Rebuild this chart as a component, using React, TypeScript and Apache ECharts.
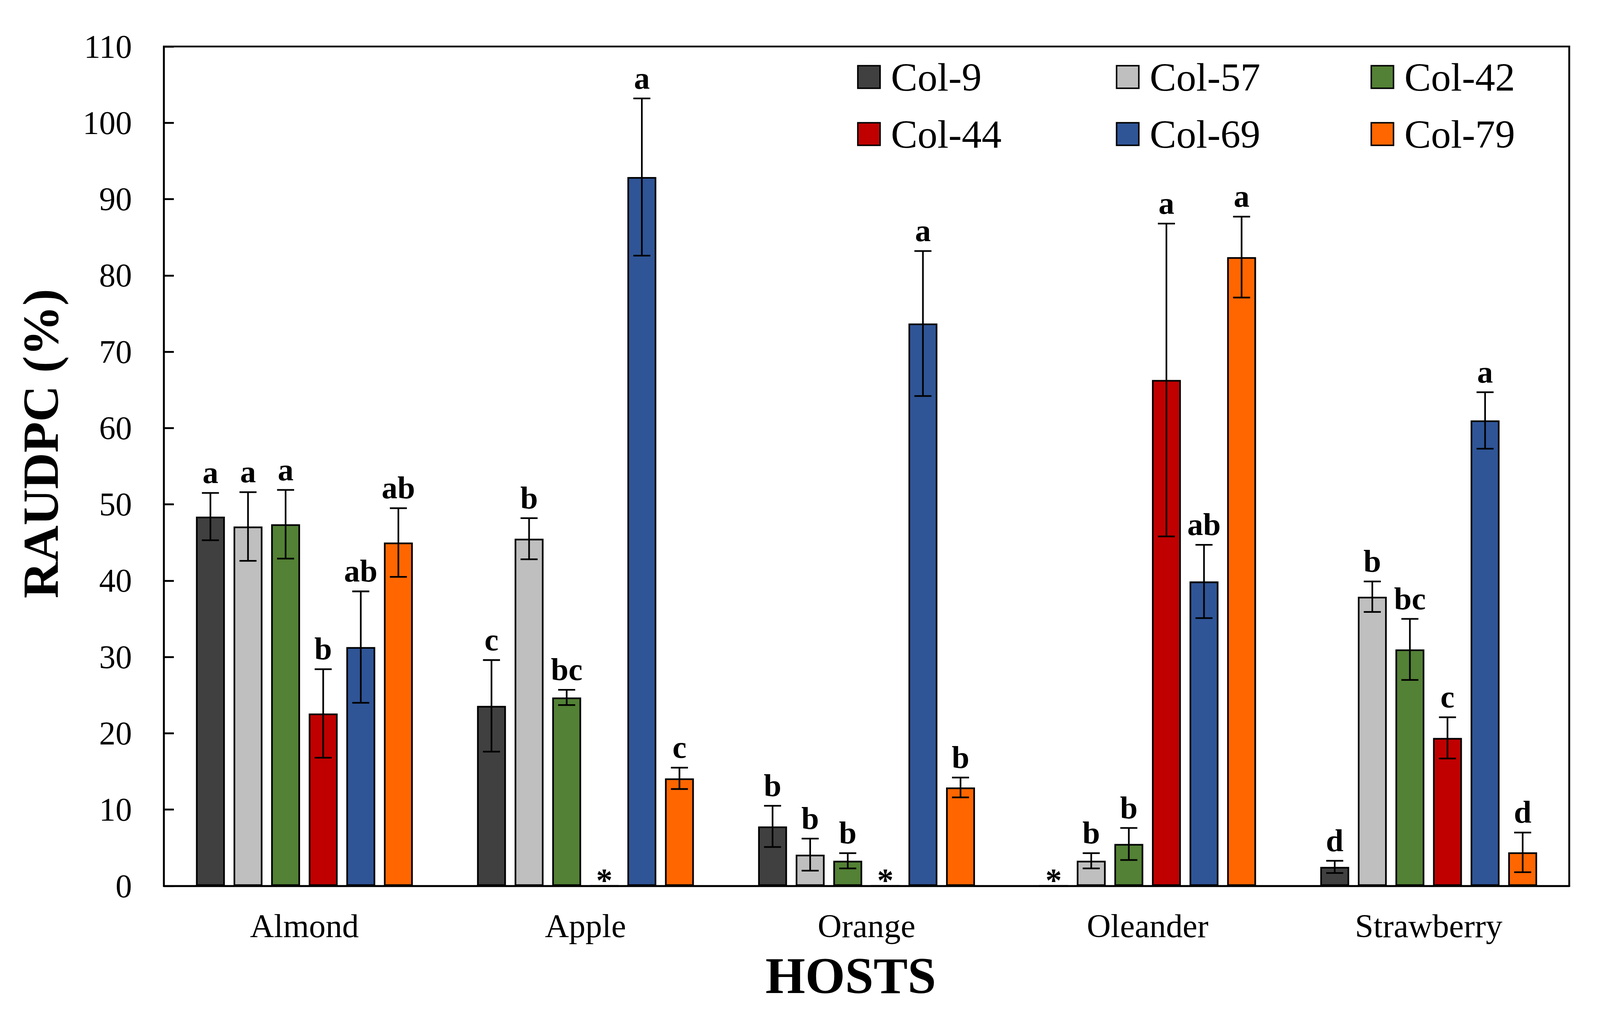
import React, { useEffect, useRef } from "react";
import * as echarts from "echarts";

const hosts = ["Almond", "Apple", "Orange", "Oleander", "Strawberry"];
const isolates = ["Col-9", "Col-57", "Col-42", "Col-44", "Col-69", "Col-79"];
const colors = ["#404040", "#BFBFBF", "#538135", "#C00000", "#2F5597", "#FF6600"];

// mean RAUDPC (%) per isolate, in host order
const col9Mean = [48.4, 23.6, 7.8, 0, 2.5];
const col57Mean = [47.1, 45.5, 4.1, 3.3, 37.9];
const col42Mean = [47.4, 24.7, 3.3, 5.5, 31.0];
const col44Mean = [22.6, 0, 0, 66.3, 19.4];
const col69Mean = [31.3, 92.9, 73.7, 39.9, 61.0];
const col79Mean = [45.0, 14.1, 12.9, 82.4, 4.4];

// standard errors
const col9Err = [3.1, 6.0, 2.7, 0, 0.8];
const col57Err = [4.5, 2.7, 2.1, 1.0, 2.0];
const col42Err = [4.5, 1.0, 1.0, 2.1, 4.0];
const col44Err = [5.8, 0, 0, 20.5, 2.7];
const col69Err = [7.3, 10.3, 9.5, 4.8, 3.7];
const col79Err = [4.5, 1.4, 1.3, 5.3, 2.6];

// significance letters ("*" = no disease)
const col9Letters = ["a", "c", "b", "*", "d"];
const col57Letters = ["a", "b", "b", "b", "b"];
const col42Letters = ["a", "bc", "b", "b", "bc"];
const col44Letters = ["b", "*", "*", "a", "c"];
const col69Letters = ["ab", "a", "a", "ab", "a"];
const col79Letters = ["ab", "c", "b", "a", "d"];

const yTicks = { min: 0, max: 110, interval: 10 };

const means = [col9Mean, col57Mean, col42Mean, col44Mean, col69Mean, col79Mean];
const errs = [col9Err, col57Err, col42Err, col44Err, col69Err, col79Err];
const letters = [col9Letters, col57Letters, col42Letters, col44Letters, col69Letters, col79Letters];

const FONT = "'Liberation Serif', 'Times New Roman', serif";
const REF_W = 4316;
const REF_H = 2587;

function buildOption(W: number, H: number) {
  const sx = W / REF_W;
  const sy = H / REF_H;
  const f = Math.min(sx, sy);
  const barW = 78 * sx;
  const step = barW * 1.3;
  const barSeries = isolates.map((name, i) => ({
    name,
    type: "bar",
    data: means[i],
    barWidth: barW,
    barGap: "30%",
    itemStyle: { color: colors[i], borderColor: "#000", borderWidth: 4.5 * f },
    z: 2,
  }));
  const errSeries = isolates.map((name, i) => ({
    name: "err-" + name,
    type: "custom",
    coordinateSystem: "cartesian2d",
    z: 5,
    encode: { x: 0, y: 1 },
    data: hosts.map((_, h) => [h, means[i][h], errs[i][h]]),
    renderItem: (params: any, api: any) => {
      const h = api.value(0);
      const m = api.value(1);
      const e = api.value(2);
      const off = (i - 2.5) * step;
      const base = api.coord([h, m]);
      const x = base[0] + off;
      const letter = letters[i][params.dataIndex];
      if (!m) {
        const y0 = api.coord([h, 0])[1];
        return {
          type: "text",
          style: {
            text: letter,
            x,
            y: y0 - 15 * sy,
            align: "center",
            verticalAlign: "middle",
            font: `bold ${Math.round(88 * f)}px ${FONT}`,
            fill: "#000",
          },
        };
      }
      const top = api.coord([h, m + e])[1];
      const bot = api.coord([h, m - e])[1];
      const half = 23 * sx;
      const ls = { stroke: "#000", lineWidth: 4.5 * f };
      return {
        type: "group",
        children: [
          { type: "line", shape: { x1: x, y1: top, x2: x, y2: bot }, style: ls },
          { type: "line", shape: { x1: x - half, y1: top, x2: x + half, y2: top }, style: ls },
          { type: "line", shape: { x1: x - half, y1: bot, x2: x + half, y2: bot }, style: ls },
          {
            type: "text",
            style: {
              text: letter,
              x,
              y: top - 52 * sy,
              align: "center",
              verticalAlign: "middle",
              font: `bold ${Math.round(85 * f)}px ${FONT}`,
              fill: "#000",
            },
          },
        ],
      };
    },
  }));

  const legendCols = [
    { left: 2312, items: [isolates[0], isolates[3]] },
    { left: 3010, items: [isolates[1], isolates[4]] },
    { left: 3697, items: [isolates[2], isolates[5]] },
  ];
  const legFs = Math.round(107 * f);

  return {
    animation: false,
    backgroundColor: "#fff",
    textStyle: { fontFamily: FONT },
    grid: {
      left: 442 * sx,
      top: 119 * sy,
      width: 3791 * sx,
      height: 2148 * sy,
      show: true,
      borderColor: "#000",
      borderWidth: 5 * f,
      backgroundColor: "transparent",
      containLabel: false,
    },
    legend: legendCols.map((c) => ({
      data: c.items,
      orient: "vertical",
      left: c.left * sx,
      top: 197 * sy - legFs / 2,
      padding: 0,
      itemWidth: 60 * f,
      itemHeight: 61 * f,
      itemGap: 146 * sy - legFs,
      icon: "rect",
      selectedMode: false,
      itemStyle: { borderColor: "#000", borderWidth: 4 * f },
      textStyle: {
        fontSize: legFs,
        fontFamily: FONT,
        color: "#000",
        lineHeight: legFs,
        padding: [0, 0, 0, 24 * f],
      },
    })),
    xAxis: {
      type: "category",
      data: hosts,
      axisLine: { show: true, lineStyle: { color: "#000", width: 5 * f } },
      axisTick: { show: false },
      axisLabel: { fontSize: Math.round(90 * f), color: "#000", fontFamily: FONT, margin: 59 * sy },
      splitLine: { show: false },
    },
    yAxis: {
      type: "value",
      min: yTicks.min,
      max: yTicks.max,
      interval: yTicks.interval,
      axisLine: { show: true, lineStyle: { color: "#000", width: 5 * f } },
      axisTick: { show: true, inside: true, length: 27 * sx, lineStyle: { color: "#000", width: 5 * f } },
      axisLabel: { fontSize: Math.round(89 * f), color: "#000", fontFamily: FONT, margin: 86 * sx },
      splitLine: { show: false },
    },
    graphic: [
      {
        type: "text",
        x: 2295 * sx,
        y: 2496 * sy,
        style: {
          text: "HOSTS",
          font: `bold ${Math.round(138 * f)}px ${FONT}`,
          fill: "#000",
          align: "center",
          verticalAlign: "middle",
        },
      },
      {
        type: "text",
        x: 110 * sx,
        y: 1135 * sy,
        rotation: Math.PI / 2,
        style: {
          text: "RAUDPC (%)",
          font: `bold ${Math.round(136 * f)}px ${FONT}`,
          fill: "#000",
          align: "center",
          verticalAlign: "middle",
        },
      },
    ],
    series: [...barSeries, ...errSeries],
  };
}

export default function App() {
  const ref = useRef<HTMLDivElement>(null);
  useEffect(() => {
    document.body.style.margin = "0";
    document.documentElement.style.overflow = "hidden";
    const el = ref.current as HTMLDivElement;
    const chart = echarts.init(el, null, { renderer: "svg" });
    const W = chart.getWidth();
    const H = chart.getHeight();
    chart.setOption(buildOption(W, H) as any);
    return () => chart.dispose();
  }, []);
  return (
    <div
      ref={ref}
      style={{ width: "100vw", height: "100vh", position: "fixed", left: 0, top: 0, background: "#fff" }}
    />
  );
}
